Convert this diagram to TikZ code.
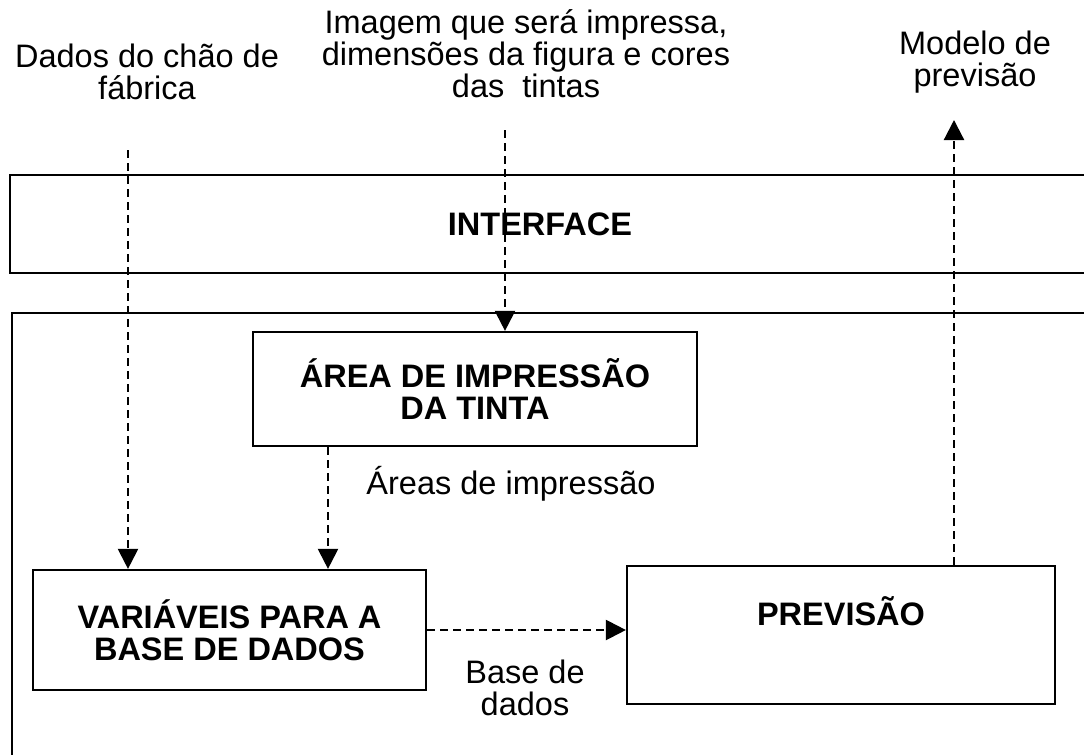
\documentclass[tikz,border=0pt]{standalone}
\usepackage{fontspec}
\setmainfont{Liberation Sans}
\usetikzlibrary{arrows.meta}

\newcommand{\bigfont}{\fontsize{32.5}{32}\selectfont}

\tikzset{
  frame/.style={line width=2.2pt},
  box/.style={draw, line width=2.2pt, align=center, inner sep=0pt, font=\bigfont\bfseries},
  lbl/.style={align=center, inner sep=0pt, font=\bigfont},
  flow/.style={line width=2.2pt, dash pattern=on 8pt off 5pt, -{Triangle[length=20pt,width=20pt]}},
}

\begin{document}
\begin{tikzpicture}[x=1pt,y=-1pt]
  \useasboundingbox (0,0) rectangle (1084,755);

  % frames, open to the right
  \draw[frame] (1084,175) -| (10,273) -- (1084,273);
  \draw[frame] (1084,313) -| (12,755);
  \node[lbl, font=\bigfont\bfseries] (iface) at (540,224) {INTERFACE};

  % boxes
  \node[box, minimum width=444pt, minimum height=114pt] (area) at (475,389) {ÁREA DE IMPRESSÃO\\DA TINTA};
  \node[box, minimum width=393pt, minimum height=120pt] (var) at (229.5,630) {VARIÁVEIS PARA A\\BASE DE DADOS};
  \node[box, minimum width=428pt, minimum height=138pt, text height=24pt, text depth=44pt] (prev) at (841,635) {PREVISÃO};

  % texts
  \node[lbl] (dados) at (147,72) {Dados do chão de\\fábrica};
  \node[lbl] (imagem) at (526,54) {Imagem que será impressa,\\dimensões da figura e cores\\das~~tintas};
  \node[lbl] (modelo) at (975,62) {Modelo de\\previsão};
  \node[lbl] (areas) at (511,484) {Áreas de impressão};
  \node[lbl] (base) at (525,688) {Base de\\dados};

  % dashed flows
  \coordinate (chao) at (128,150);
  \coordinate (img) at (505,130);
  \coordinate (imp) at (328,446);
  \coordinate (mod) at (954,120);
  \draw[flow] (chao) -- (chao |- var.north);
  \draw[flow] (img) -- (img |- area.north);
  \draw[flow] (imp |- area.south) -- (imp |- var.north);
  \draw[flow] (var.east) -- (var.east -| prev.west);
  \draw[flow] (mod |- prev.north) -- (mod);
\end{tikzpicture}
\end{document}
